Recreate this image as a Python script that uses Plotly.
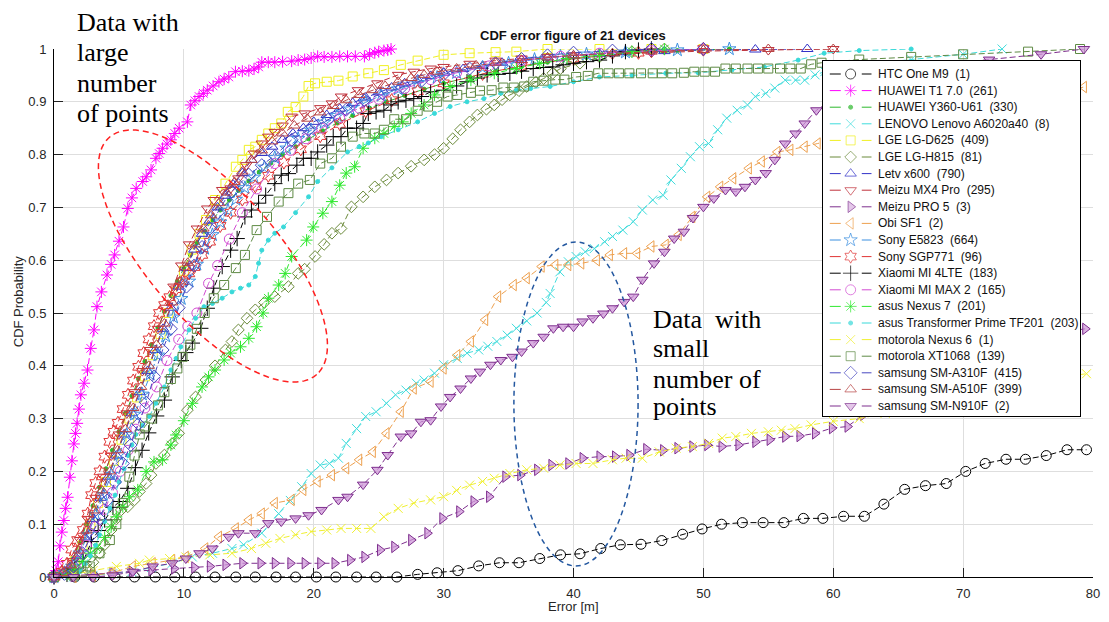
import numpy as np
import plotly.graph_objects as go

# ---------------- data ----------------
DEVICES = ["HTC One M9", "HUAWEI T1 7.0", "HUAWEI Y360-U61", "LENOVO Lenovo A6020a40",
           "LGE LG-D625", "LGE LG-H815", "Letv x600", "Meizu MX4 Pro", "Meizu PRO 5",
           "Obi SF1", "Sony E5823", "Sony SGP771", "Xiaomi MI 4LTE", "Xiaomi MI MAX 2",
           "asus Nexus 7", "asus Transformer Prime TF201", "motorola Nexus 6",
           "motorola XT1068", "samsung SM-A310F", "samsung SM-A510F", "samsung SM-N910F"]
COUNTS = [1, 261, 330, 8, 409, 81, 790, 295, 3, 2, 664, 96, 183, 165, 201, 203, 1, 139, 415, 399, 2]

X_TICKS = [0, 10, 20, 30, 40, 50, 60, 70, 80]
Y_TICKS = [0, 0.1, 0.2, 0.3, 0.4, 0.5, 0.6, 0.7, 0.8, 0.9, 1]

X_HTC = [0, 1.6, 3.1, 4.7, 6.2, 7.8, 9.3, 10.9, 12.4, 14.0, 15.5, 17.1, 18.6, 20.2, 21.7, 23.3, 24.8, 26.4,
         28.0, 29.5, 31.1, 32.7, 34.3, 35.8, 37.4, 39.0, 40.5, 42.1, 43.6, 45.2, 46.8, 48.4, 49.9, 51.4,
         53.0, 54.6, 56.2, 57.7, 59.2, 60.8, 62.4, 63.9, 65.5, 67.1, 68.7, 70.2, 71.7, 73.3, 74.8, 76.4, 78.0, 79.5]
Y_HTC = [0, 0, 0, 0, 0, 0, 0, 0, 0, 0, 0, 0, 0, 0, 0, 0, 0, 0,
         0.005, 0.008, 0.012, 0.021, 0.027, 0.027, 0.035, 0.042, 0.044, 0.054, 0.061, 0.062, 0.069, 0.081, 0.091, 0.1,
         0.103, 0.103, 0.103, 0.111, 0.111, 0.115, 0.115, 0.138, 0.166, 0.173, 0.177, 0.2, 0.215, 0.223, 0.223, 0.23, 0.241, 0.241]

X_T1 = [0, 0.15, 0.33, 0.46, 0.6, 0.76, 0.9, 1.05, 1.22, 1.38, 1.53, 1.65, 1.78, 1.92, 2.07, 2.32, 2.58, 2.83, 3.08, 3.31,
        3.65, 4.08, 4.4, 4.67, 5.0, 5.35, 5.68, 6.0, 6.33, 6.83, 7.1, 7.47, 7.85, 8.1, 8.36, 8.7, 9.0, 9.3, 9.64, 10.27,
        10.53, 10.85, 11.17, 11.5, 11.8, 12.25, 12.7, 13.1, 13.46, 13.97, 14.5, 15.0, 15.4, 15.76, 16.0, 16.5, 17.0, 17.6, 18.3, 18.8,
        19.3, 19.8, 20.3, 20.8, 21.4, 22.0, 22.6, 23.2, 23.9, 24.3, 24.7, 25.0, 25.4, 25.7, 25.95]
Y_T1 = [0, 0.012, 0.029, 0.059, 0.085, 0.107, 0.13, 0.151, 0.189, 0.22, 0.252, 0.272, 0.291, 0.318, 0.345, 0.367, 0.392, 0.433, 0.468, 0.512,
        0.54, 0.572, 0.592, 0.61, 0.636, 0.663, 0.698, 0.718, 0.736, 0.749, 0.758, 0.771, 0.793, 0.802, 0.812, 0.82, 0.828, 0.84, 0.85, 0.862,
        0.894, 0.902, 0.91, 0.916, 0.922, 0.93, 0.938, 0.943, 0.947, 0.957, 0.958, 0.959, 0.962, 0.966, 0.975, 0.975, 0.975, 0.976, 0.977, 0.979,
        0.98, 0.983, 0.986, 0.985, 0.985, 0.986, 0.986, 0.986, 0.986, 0.99, 0.993, 0.995, 0.997, 0.998, 1.0]

X_Y360 = [0, 0.5, 1.0, 1.5, 2.0, 2.5, 3.0, 3.5, 4.0, 4.5, 5.0, 5.5, 6.0, 6.5, 7.0, 7.5, 8.0, 8.5, 9.0, 9.5,
          10.0, 10.5, 11.0, 11.6, 12.2, 12.8, 13.5, 14.2, 15.0, 15.8, 16.7, 17.6, 18.6, 19.6, 20.7, 21.8, 23.0, 24.3, 25.6, 27.0,
          28.5, 30.0, 32.0, 34.0, 36.0, 38.0, 41.0, 44.0, 48.0, 52.0]
Y_Y360 = [0, 0.005, 0.015, 0.035, 0.065, 0.1, 0.135, 0.17, 0.205, 0.24, 0.275, 0.31, 0.343, 0.376, 0.408, 0.44, 0.472, 0.503, 0.533, 0.56,
          0.586, 0.61, 0.633, 0.655, 0.676, 0.695, 0.714, 0.732, 0.75, 0.767, 0.784, 0.8, 0.815, 0.83, 0.845, 0.86, 0.874, 0.888, 0.9, 0.912,
          0.924, 0.935, 0.947, 0.958, 0.967, 0.975, 0.984, 0.991, 0.997, 1.0]

X_LEN = [0, 1.5, 3.0, 4.5, 6.0, 7.5, 9.1, 10.65, 12.2, 13.7, 14.6, 16.0, 17.3, 18.2, 19.07, 19.8, 20.5, 21.2, 21.9, 22.5,
         23.3, 24.0, 24.8, 25.6, 26.3, 27.1, 27.9, 28.5, 29.3, 30.0, 31.05, 31.8, 32.7, 33.4, 34.1, 34.9, 35.6, 36.4, 37.2, 37.9,
         38.2, 38.95, 39.6, 40.2, 40.9, 41.6, 42.4, 43.0, 43.8, 44.6, 45.3, 46.1, 46.9, 47.5, 48.3, 49.0, 49.7, 50.4, 51.1, 51.8,
         52.6, 53.4, 54.0, 54.8, 55.5, 56.3, 57.1, 57.8, 58.6, 59.35, 62.0, 66.0, 70.0, 73.0]
Y_LEN = [0, 0, 0.003, 0.006, 0.01, 0.018, 0.026, 0.038, 0.045, 0.054, 0.061, 0.083, 0.12, 0.145, 0.171, 0.196, 0.212, 0.215, 0.225, 0.253,
         0.281, 0.304, 0.313, 0.329, 0.345, 0.354, 0.367, 0.373, 0.386, 0.402, 0.414, 0.424, 0.43, 0.437, 0.446, 0.458, 0.471, 0.485, 0.5, 0.52,
         0.537, 0.578, 0.597, 0.607, 0.616, 0.622, 0.635, 0.645, 0.657, 0.673, 0.695, 0.714, 0.723, 0.752, 0.774, 0.796, 0.815, 0.821, 0.847, 0.869,
         0.884, 0.894, 0.91, 0.916, 0.926, 0.941, 0.941, 0.941, 0.951, 0.957, 0.97, 0.98, 0.99, 1.0]

X_D625 = [0, 1.0, 1.6, 2.2, 2.8, 3.4, 4.0, 4.6, 5.2, 5.8, 6.4, 7.0, 7.6, 8.2, 8.8, 9.4, 10.0, 10.6, 11.2, 11.7,
          12.4, 13.2, 14.0, 14.5, 15.0, 15.5, 16.0, 16.5, 17.0, 17.5, 18.0, 18.6, 19.2, 19.6, 20.1, 21.0, 21.9, 23.0, 24.2, 25.4,
          26.7, 28.0, 30.0, 32.0, 34.0, 35.6, 38.0, 42.0, 46.0, 50.0]
Y_D625 = [0, 0.01, 0.03, 0.06, 0.1, 0.14, 0.18, 0.22, 0.26, 0.3, 0.34, 0.38, 0.42, 0.46, 0.5, 0.54, 0.58, 0.62, 0.65, 0.676,
          0.714, 0.745, 0.777, 0.79, 0.809, 0.815, 0.828, 0.84, 0.85, 0.859, 0.881, 0.89, 0.91, 0.93, 0.935, 0.938, 0.94, 0.948, 0.954, 0.96,
          0.97, 0.978, 0.989, 0.992, 0.994, 0.995, 1.0, 1.0, 1.0, 1.0]

X_H815 = [0, 1.5, 2.5, 3.0, 3.52, 3.9, 4.4, 4.8, 5.18, 5.68, 6.2, 6.58, 7.09, 7.47, 7.85, 8.5, 9.1, 9.6, 10.27, 10.9,
          11.7, 12.4, 13.2, 13.7, 14.2, 14.86, 15.5, 16.2, 17.0, 18.05, 18.8, 19.3, 20.1, 20.8, 21.4, 22.1, 22.9, 23.8, 24.7, 25.6,
          26.5, 27.5, 28.5, 29.3, 30.0, 30.7, 31.3, 32.0, 32.6, 33.3, 33.9, 34.5, 35.1, 35.8, 36.4, 37.1, 37.7, 38.4, 39.0, 40.5,
          42.0, 44.5, 47.0]
Y_H815 = [0, 0.003, 0.015, 0.028, 0.045, 0.061, 0.089, 0.11, 0.127, 0.133, 0.146, 0.162, 0.177, 0.193, 0.215, 0.231, 0.253, 0.272, 0.316, 0.341,
          0.373, 0.4, 0.43, 0.446, 0.468, 0.49, 0.506, 0.52, 0.531, 0.55, 0.575, 0.583, 0.607, 0.63, 0.651, 0.66, 0.701, 0.72, 0.739, 0.752,
          0.765, 0.778, 0.79, 0.8, 0.812, 0.83, 0.847, 0.862, 0.875, 0.886, 0.894, 0.904, 0.913, 0.921, 0.929, 0.937, 0.944, 0.954, 0.963, 0.973,
          0.985, 0.995, 1.0]

X_LETV = [0, 0.6, 1.2, 1.8, 2.4, 3.0, 3.6, 4.2, 4.8, 5.4, 6.0, 6.6, 7.2, 7.8, 8.4, 9.0, 9.6, 10.2, 10.8, 11.4,
          12.0, 12.6, 13.2, 13.8, 14.5, 15.2, 16.0, 16.8, 17.6, 18.4, 19.2, 20.0, 21.0, 22.0, 23.0, 24.0, 25.0, 26.0, 27.0, 28.0,
          29.0, 30.0, 31.5, 33.0, 34.5, 36.0, 38.0, 40.0, 42.0, 44.0, 47.0, 50.0, 54.0, 58.0]
Y_LETV = [0, 0.006, 0.018, 0.04, 0.075, 0.11, 0.15, 0.19, 0.23, 0.27, 0.31, 0.35, 0.39, 0.43, 0.47, 0.51, 0.55, 0.585, 0.62, 0.65,
          0.675, 0.7, 0.722, 0.743, 0.765, 0.79, 0.803, 0.815, 0.828, 0.84, 0.85, 0.862, 0.875, 0.887, 0.898, 0.908, 0.918, 0.927, 0.935, 0.942,
          0.949, 0.955, 0.962, 0.968, 0.974, 0.979, 0.984, 0.988, 0.991, 0.994, 0.996, 0.998, 0.999, 1.0]

X_MX4 = [0, 0.8, 1.4, 2.0, 2.6, 3.2, 3.8, 4.4, 5.0, 5.6, 6.2, 6.8, 7.4, 8.0, 8.6, 9.2, 9.8, 10.4, 11.0, 11.8,
         12.3, 12.95, 13.6, 14.2, 14.8, 15.4, 16.0, 16.5, 17.0, 17.6, 18.3, 19.3, 20.5, 21.4, 22.1, 23.4, 24.9, 26.5, 27.7, 29.0,
         30.0, 32.0, 34.0, 36.0, 38.0, 40.0, 43.0, 46.0, 50.0, 55.0, 60.0]
Y_MX4 = [0, 0.01, 0.03, 0.07, 0.11, 0.15, 0.19, 0.23, 0.27, 0.31, 0.35, 0.39, 0.43, 0.47, 0.51, 0.55, 0.59, 0.63, 0.66, 0.698,
         0.714, 0.733, 0.736, 0.755, 0.78, 0.802, 0.821, 0.834, 0.843, 0.855, 0.872, 0.878, 0.888, 0.897, 0.91, 0.922, 0.935, 0.951, 0.957, 0.963,
         0.966, 0.972, 0.978, 0.982, 0.985, 0.988, 0.99, 0.993, 0.996, 0.998, 1.0]

X_P5 = [0, 1.5, 3.0, 4.5, 6.0, 7.5, 9.25, 10.8, 12.0, 13.2, 14.5, 15.9, 17.0, 18.2, 19.3, 20.5, 21.6, 22.8, 23.9, 25.1,
        26.2, 27.5, 28.75, 29.9, 31.2, 32.3, 33.5, 34.75, 35.9, 37.2, 38.3, 39.6, 40.7, 42.0, 43.2, 44.3, 45.6, 46.9, 48.0, 49.15,
        50.3, 51.4, 52.7, 54.0, 55.1, 56.3, 57.4, 58.6, 59.9, 61.1, 62.3, 64.0, 66.0, 68.0, 70.0, 72.0, 74.0, 76.0, 78.0, 79.4]
Y_P5 = [0, 0.002, 0.005, 0.008, 0.01, 0.013, 0.016, 0.018, 0.02, 0.023, 0.026, 0.026, 0.026, 0.026, 0.026, 0.026, 0.026, 0.032, 0.038, 0.051,
        0.057, 0.07, 0.083, 0.111, 0.124, 0.143, 0.152, 0.19, 0.193, 0.203, 0.212, 0.215, 0.225, 0.228, 0.228, 0.231, 0.242, 0.24, 0.244, 0.247,
        0.25, 0.247, 0.25, 0.256, 0.26, 0.266, 0.267, 0.272, 0.282, 0.285, 0.307, 0.33, 0.36, 0.38, 0.4, 0.42, 0.44, 0.455, 0.465, 0.47]

X_OBI = [0, 1.5, 3.0, 4.5, 6.07, 7.6, 9.1, 10.15, 11.65, 12.7, 14.0, 15.0, 16.0, 17.0, 18.3, 19.2, 20.3, 21.4, 22.5, 23.5,
         24.55, 25.6, 26.7, 27.7, 29.0, 30.0, 31.05, 32.1, 33.2, 34.2, 35.4, 36.4, 37.55, 38.6, 39.6, 40.6, 41.8, 42.8, 43.9, 44.9,
         46.0, 47.1, 48.1, 49.15, 50.3, 51.3, 52.3, 53.5, 54.5, 55.7, 56.7, 57.8, 58.8, 62.0, 66.0, 70.0, 74.0, 77.0, 79.3]
Y_OBI = [0, 0, 0.003, 0.008, 0.02, 0.026, 0.032, 0.038, 0.054, 0.076, 0.092, 0.108, 0.12, 0.14, 0.146, 0.165, 0.181, 0.193, 0.206, 0.222,
         0.237, 0.272, 0.313, 0.357, 0.37, 0.395, 0.42, 0.446, 0.487, 0.531, 0.553, 0.566, 0.588, 0.591, 0.591, 0.594, 0.6, 0.61, 0.613, 0.613,
         0.626, 0.629, 0.648, 0.682, 0.72, 0.739, 0.755, 0.774, 0.787, 0.805, 0.809, 0.815, 0.821, 0.84, 0.86, 0.88, 0.9, 0.915, 0.928]

X_E5823 = [0, 0.8, 1.4, 2.0, 2.6, 3.2, 3.8, 4.4, 5.0, 5.6, 6.2, 6.8, 7.4, 8.0, 8.6, 9.2, 9.8, 10.4, 11.0, 11.6,
           12.2, 12.8, 13.4, 14.0, 14.7, 15.4, 16.2, 17.0, 17.9, 18.8, 19.8, 20.8, 21.8, 22.8, 24.0, 25.2, 26.5, 28.0, 29.5, 31.0,
           33.0, 35.0, 37.0, 39.0, 41.0, 44.0, 48.0, 52.0]
Y_E5823 = [0, 0.008, 0.02, 0.045, 0.08, 0.118, 0.156, 0.194, 0.232, 0.27, 0.308, 0.346, 0.384, 0.42, 0.456, 0.492, 0.527, 0.56, 0.592, 0.622,
           0.648, 0.672, 0.694, 0.715, 0.737, 0.757, 0.776, 0.794, 0.812, 0.83, 0.846, 0.861, 0.874, 0.886, 0.899, 0.912, 0.924, 0.936, 0.946, 0.955,
           0.965, 0.973, 0.98, 0.986, 0.99, 0.994, 0.998, 1.0]

X_SGP = [0, 0.6, 1.0, 1.35, 1.8, 2.24, 2.6, 2.88, 3.2, 3.52, 3.9, 4.28, 4.6, 4.92, 5.3, 5.7, 6.1, 6.5, 6.9, 7.3,
         7.7, 8.1, 8.5, 8.9, 9.4, 9.9, 10.4, 10.8, 11.4, 12.0, 12.8, 13.6, 14.5, 15.5, 16.5, 17.7, 19.0, 20.5, 22.0, 24.0,
         26.0, 28.0, 30.0, 33.0, 36.0, 40.0, 45.0, 50.0]
Y_SGP = [0, 0.01, 0.025, 0.052, 0.07, 0.089, 0.12, 0.155, 0.178, 0.2, 0.228, 0.256, 0.275, 0.292, 0.318, 0.345, 0.372, 0.398, 0.424, 0.45,
         0.475, 0.5, 0.515, 0.53, 0.545, 0.56, 0.575, 0.587, 0.61, 0.635, 0.665, 0.69, 0.715, 0.74, 0.76, 0.785, 0.81, 0.835, 0.858, 0.882,
         0.903, 0.92, 0.935, 0.953, 0.968, 0.982, 0.993, 1.0]

X_4LTE = [0, 1.0, 1.6, 2.24, 2.88, 3.4, 3.9, 4.54, 5.05, 5.68, 6.27, 6.78, 7.29, 7.9, 8.5, 9.1, 9.8, 10.15, 10.65, 11.3,
          11.8, 12.3, 12.95, 13.6, 14.1, 14.7, 15.2, 15.75, 16.3, 17.0, 17.5, 18.05, 18.7, 19.2, 19.8, 20.3, 21.0, 21.5, 22.1, 22.6,
          23.3, 23.8, 24.2, 24.8, 25.4, 25.95, 26.5, 27.1, 27.7, 28.3, 29.0, 30.0, 31.0, 31.8, 32.6, 33.35, 34.2, 35.1, 36.0, 36.9,
          37.7, 38.4, 39.2, 40.0, 41.0, 42.0, 43.0, 44.0, 45.0, 46.0]
Y_4LTE = [0, 0.005, 0.015, 0.029, 0.067, 0.088, 0.108, 0.132, 0.143, 0.168, 0.207, 0.24, 0.273, 0.305, 0.335, 0.379, 0.41, 0.425, 0.443, 0.471,
          0.509, 0.547, 0.588, 0.619, 0.641, 0.682, 0.695, 0.708, 0.723, 0.745, 0.761, 0.764, 0.78, 0.793, 0.793, 0.805, 0.818, 0.834, 0.834, 0.85,
          0.85, 0.859, 0.878, 0.881, 0.884, 0.894, 0.9, 0.903, 0.906, 0.91, 0.919, 0.922, 0.93, 0.938, 0.945, 0.951, 0.952, 0.954, 0.958, 0.963,
          0.965, 0.966, 0.97, 0.973, 0.976, 0.979, 0.987, 0.995, 0.998, 1.0]

X_MAX2 = [0, 1.0, 1.8, 2.5, 3.2, 3.9, 4.5, 5.1, 5.7, 6.3, 7.0, 7.9, 8.7, 9.6, 10.3, 11.0, 11.9, 12.6, 13.5, 14.5,
          15.6, 17.0, 18.2, 19.4, 20.6, 22.0, 23.5, 25.0, 27.0, 29.0, 31.0, 33.5, 36.0, 39.0, 42.0, 46.0, 50.0]
Y_MAX2 = [0, 0.01, 0.03, 0.06, 0.095, 0.128, 0.16, 0.2, 0.24, 0.28, 0.32, 0.36, 0.41, 0.45, 0.475, 0.5, 0.556, 0.59, 0.64, 0.69,
          0.735, 0.783, 0.808, 0.83, 0.85, 0.87, 0.888, 0.905, 0.925, 0.942, 0.955, 0.968, 0.978, 0.986, 0.992, 0.997, 1.0]

X_N7 = [0, 1.0, 1.6, 2.2, 2.8, 3.3, 3.9, 4.4, 4.8, 5.3, 5.8, 6.45, 7.09, 7.7, 8.36, 9.0, 9.4, 10.0, 10.65, 11.4,
        11.9, 12.4, 13.1, 13.6, 14.36, 15.0, 15.6, 16.1, 16.5, 17.3, 17.8, 18.3, 19.45, 19.96, 20.7, 21.4, 22.0, 22.5, 23.15, 23.8,
        24.7, 25.4, 26.2, 26.85, 27.5, 28.5, 29.3, 30.5, 32.1, 33.9, 35.6, 37.4, 39.5, 42.0, 44.5, 47.0]
Y_N7 = [0, 0.005, 0.015, 0.03, 0.045, 0.055, 0.075, 0.095, 0.114, 0.133, 0.152, 0.165, 0.2, 0.218, 0.222, 0.25, 0.269, 0.296, 0.329, 0.36,
        0.379, 0.392, 0.411, 0.424, 0.436, 0.452, 0.474, 0.5, 0.528, 0.553, 0.575, 0.607, 0.638, 0.663, 0.689, 0.711, 0.742, 0.765, 0.777, 0.812,
        0.831, 0.84, 0.853, 0.862, 0.878, 0.894, 0.913, 0.929, 0.941, 0.954, 0.963, 0.973, 0.982, 0.988, 0.995, 1.0]

X_TF = [0, 1.5, 2.0, 2.4, 2.8, 3.2, 3.5, 3.9, 4.3, 4.7, 5.0, 5.4, 5.7, 6.0, 6.3, 6.8, 7.34, 7.85, 8.5, 9.0,
        9.4, 9.77, 10.4, 10.9, 11.55, 12.2, 12.95, 13.7, 14.36, 15.0, 15.5, 15.75, 16.0, 16.5, 17.0, 17.67, 18.6, 19.6, 20.3, 21.4,
        22.6, 23.5, 24.2, 25.2, 26.5, 28.0, 29.3, 30.5, 31.8, 33.1, 34.4, 35.6, 36.7, 38.2, 40.0, 42.0, 44.5, 47.1, 49.6, 52.2,
        54.7, 57.3, 59.3, 62.0, 66.0]
Y_TF = [0, 0.003, 0.01, 0.025, 0.04, 0.06, 0.08, 0.105, 0.13, 0.155, 0.18, 0.205, 0.23, 0.25, 0.27, 0.287, 0.304, 0.329, 0.36, 0.392,
        0.414, 0.436, 0.468, 0.49, 0.512, 0.518, 0.528, 0.54, 0.547, 0.553, 0.569, 0.594, 0.619, 0.638, 0.651, 0.663, 0.69, 0.72, 0.749, 0.775,
        0.805, 0.815, 0.822, 0.834, 0.847, 0.862, 0.878, 0.891, 0.9, 0.906, 0.916, 0.922, 0.925, 0.929, 0.938, 0.947, 0.95, 0.954, 0.955, 0.96,
        0.966, 0.979, 0.992, 0.997, 1.0]

X_NX6 = [0, 1.5, 3.0, 4.8, 6.58, 7.34, 8.9, 10.15, 12.0, 13.7, 15.2, 16.3, 17.4, 18.6, 19.8, 21.0, 22.1, 23.3, 24.4, 25.4,
         26.5, 27.7, 29.0, 30.0, 31.0, 32.0, 33.0, 33.9, 35.1, 36.4, 37.7, 38.95, 40.2, 41.5, 43.0, 44.05, 45.3, 46.6, 47.9, 49.15,
         50.4, 51.45, 52.5, 53.7, 55.0, 56.0, 57.05, 58.3, 60.0, 62.0, 64.0, 66.0, 68.0, 70.0, 72.0, 74.0, 76.0, 78.0, 79.5]
Y_NX6 = [0, 0.005, 0.012, 0.02, 0.026, 0.032, 0.035, 0.038, 0.042, 0.045, 0.054, 0.064, 0.073, 0.08, 0.086, 0.089, 0.092, 0.092, 0.092, 0.114,
         0.13, 0.14, 0.146, 0.152, 0.164, 0.174, 0.181, 0.187, 0.196, 0.203, 0.206, 0.212, 0.215, 0.215, 0.222, 0.225, 0.225, 0.237, 0.244, 0.247,
         0.253, 0.263, 0.266, 0.272, 0.275, 0.278, 0.281, 0.288, 0.295, 0.3, 0.31, 0.32, 0.33, 0.34, 0.35, 0.36, 0.37, 0.38, 0.385]

X_XT = [0, 1.5, 2.2, 2.75, 3.5, 4.3, 4.8, 5.3, 5.8, 6.2, 6.6, 7.0, 7.5, 8.0, 8.5, 9.0, 9.5, 9.9, 10.5, 11.0,
        11.6, 12.3, 13.1, 14.0, 14.7, 15.6, 16.4, 17.3, 18.05, 18.8, 19.7, 20.5, 21.4, 22.1, 23.0, 23.9, 24.7, 25.4, 26.2, 27.1,
        28.0, 28.8, 29.5, 30.3, 31.05, 32.1, 32.8, 33.7, 34.6, 35.4, 36.2, 36.9, 37.7, 38.6, 39.3, 40.2, 41.1, 41.9, 42.7, 43.5,
        44.3, 45.2, 46.1, 46.8, 47.6, 48.5, 49.3, 50.1, 50.9, 51.7, 52.5, 53.4, 54.2, 55.0, 55.9, 56.7, 57.5, 58.3, 59.1, 62.0,
        66.0, 70.0, 75.0, 79.0]
Y_XT = [0, 0.003, 0.01, 0.02, 0.045, 0.07, 0.1, 0.14, 0.19, 0.23, 0.27, 0.285, 0.3, 0.325, 0.35, 0.375, 0.395, 0.417, 0.44, 0.47,
        0.5, 0.528, 0.553, 0.585, 0.61, 0.657, 0.682, 0.711, 0.727, 0.745, 0.752, 0.783, 0.793, 0.815, 0.834, 0.84, 0.84, 0.847, 0.867, 0.867,
        0.883, 0.891, 0.9, 0.91, 0.913, 0.917, 0.921, 0.922, 0.927, 0.927, 0.929, 0.938, 0.94, 0.942, 0.942, 0.947, 0.949, 0.954, 0.954, 0.954,
        0.954, 0.954, 0.954, 0.954, 0.954, 0.955, 0.957, 0.957, 0.957, 0.963, 0.963, 0.963, 0.963, 0.963, 0.963, 0.963, 0.963, 0.971, 0.974, 0.98,
        0.985, 0.99, 0.995, 1.0]

X_A310 = [0, 0.8, 1.5, 2.2, 2.9, 3.5, 4.1, 4.7, 5.3, 5.9, 6.5, 7.1, 7.7, 8.36, 9.0, 9.6, 10.2, 10.8, 11.4, 12.0,
          12.6, 13.2, 13.7, 14.2, 15.0, 16.0, 17.0, 18.3, 19.6, 21.1, 22.5, 23.9, 25.3, 26.8, 28.3, 30.0, 32.0, 34.0, 36.0, 38.0,
          40.0, 43.0, 46.0, 50.0]
Y_A310 = [0, 0.006, 0.02, 0.045, 0.08, 0.11, 0.145, 0.18, 0.215, 0.25, 0.29, 0.33, 0.38, 0.43, 0.47, 0.51, 0.55, 0.59, 0.625, 0.66,
          0.69, 0.715, 0.73, 0.742, 0.762, 0.78, 0.798, 0.828, 0.847, 0.866, 0.885, 0.903, 0.916, 0.928, 0.94, 0.952, 0.963, 0.973, 0.981, 0.988,
          0.993, 0.997, 1.0, 1.0]

X_A510 = [0, 0.7, 1.3, 1.9, 2.5, 3.1, 3.7, 4.3, 4.9, 5.5, 6.1, 6.7, 7.3, 7.9, 8.5, 9.1, 9.7, 10.3, 10.9, 11.5,
          12.1, 12.7, 13.3, 13.9, 14.5, 15.2, 16.0, 16.8, 17.6, 18.5, 19.5, 20.5, 21.5, 22.5, 23.5, 24.5, 25.5, 26.5, 27.5, 28.5,
          29.5, 31.0, 32.5, 34.0, 36.0, 38.0, 40.0, 43.0, 46.0, 50.0, 55.0, 60.0]
Y_A510 = [0, 0.008, 0.022, 0.05, 0.088, 0.126, 0.164, 0.2, 0.24, 0.28, 0.32, 0.36, 0.4, 0.44, 0.48, 0.52, 0.56, 0.595, 0.63, 0.66,
          0.685, 0.708, 0.728, 0.748, 0.768, 0.79, 0.808, 0.825, 0.84, 0.855, 0.868, 0.88, 0.892, 0.903, 0.913, 0.922, 0.93, 0.938, 0.945, 0.951,
          0.957, 0.963, 0.969, 0.974, 0.979, 0.984, 0.988, 0.992, 0.995, 0.998, 1.0, 1.0]

X_N910 = [0, 1.5, 3.0, 4.5, 6.07, 7.6, 9.1, 10.15, 11.2, 12.2, 13.46, 14.2, 15.5, 16.5, 17.5, 18.6, 19.6, 20.6, 21.9, 22.6,
          23.8, 24.9, 25.7, 26.7, 27.5, 28.25, 29.0, 29.8, 30.5, 31.3, 32.1, 32.8, 33.6, 34.4, 35.3, 36.0, 36.9, 37.7, 38.45, 39.2,
          40.0, 40.7, 41.5, 42.3, 43.0, 43.9, 44.6, 45.3, 46.2, 47.0, 47.75, 48.5, 49.2, 50.0, 50.8, 51.7, 52.5, 53.2, 54.0, 54.8,
          55.5, 56.3, 57.1, 57.8, 58.7, 61.0, 64.0, 68.0, 72.0, 76.0, 79.3]
Y_N910 = [0, 0, 0, 0.003, 0.01, 0.02, 0.026, 0.035, 0.045, 0.054, 0.076, 0.083, 0.083, 0.102, 0.105, 0.111, 0.117, 0.127, 0.146, 0.152,
          0.175, 0.203, 0.231, 0.266, 0.272, 0.294, 0.297, 0.323, 0.341, 0.357, 0.376, 0.389, 0.402, 0.411, 0.417, 0.427, 0.443, 0.455, 0.471, 0.474,
          0.474, 0.484, 0.49, 0.499, 0.509, 0.521, 0.531, 0.563, 0.594, 0.616, 0.641, 0.654, 0.68, 0.701, 0.717, 0.733, 0.73, 0.739, 0.752, 0.765,
          0.79, 0.821, 0.84, 0.859, 0.884, 0.92, 0.95, 0.97, 0.98, 0.99, 1.0]

SERIES_X = [X_HTC, X_T1, X_Y360, X_LEN, X_D625, X_H815, X_LETV, X_MX4, X_P5, X_OBI, X_E5823,
            X_SGP, X_4LTE, X_MAX2, X_N7, X_TF, X_NX6, X_XT, X_A310, X_A510, X_N910]
SERIES_Y = [Y_HTC, Y_T1, Y_Y360, Y_LEN, Y_D625, Y_H815, Y_LETV, Y_MX4, Y_P5, Y_OBI, Y_E5823,
            Y_SGP, Y_4LTE, Y_MAX2, Y_N7, Y_TF, Y_NX6, Y_XT, Y_A310, Y_A510, Y_N910]

# ---------------- styles ----------------
COLORS = ["#000000", "#ff00ff", "#2cb82c", "#3fdcdc", "#f0f020", "#6b8a3a", "#3232c8", "#c0303a",
          "#7e2f8e", "#eda04f", "#3a8fe0", "#e03434", "#000000", "#d24bd2", "#2ee82e", "#39d9d9",
          "#f0f030", "#5e8a44", "#4848c0", "#b84444", "#7e2f8e"]
SYMBOLS = ["circle-open", "asterisk-open", "circle", "x-thin-open", "square-open", "diamond-open",
           "triangle-up-open", "triangle-down-open", "triangle-right", "triangle-left-open", "star-open",
           "hexagram-open", "cross-thin-open", "circle-open", "asterisk-open", "circle", "x-thin-open",
           "square-open", "diamond-open", "triangle-up-open", "triangle-down"]
SIZES = [10, 10, 4, 9, 9, 9, 10, 10, 10, 10, 10, 10, 11, 10, 10, 4, 9, 9, 10, 10, 10]

FONT = "Liberation Sans, Arial, sans-serif"
SERIF = "Liberation Serif, Times New Roman, serif"

# plot area in pixels (figure 1109 x 622)
L, R, T, B = 54, 1100, 49, 577


def px_x(p):
    return (p - L) / (R - L)


def px_y(p):
    return (B - p) / (B - T)


def marker_style(i):
    m = dict(symbol=SYMBOLS[i], size=SIZES[i], color=COLORS[i], line=dict(width=1, color=COLORS[i]))
    if SYMBOLS[i] in ("triangle-right", "triangle-down"):
        m["color"] = "rgba(205,150,215,0.75)"
    return m


fig = go.Figure()

for i in range(len(DEVICES)):
    xs, ys = SERIES_X[i], SERIES_Y[i]
    assert len(xs) == len(ys), (DEVICES[i], len(xs), len(ys))
    fig.add_trace(go.Scatter(
        x=xs, y=ys, mode="lines+markers", name=DEVICES[i], showlegend=False,
        line=dict(color=COLORS[i], width=1, dash="6px,3px"),
        marker=marker_style(i), cliponaxis=False, hoverinfo="skip"))

# ---------------- hand-built legend box (second subplot on top) ----------------
LEG_X0, LEG_X1, LEG_Y0, LEG_Y1 = 828, 1087, 61, 416
ROW0, ROW_STEP = 74, 16.6
for i in range(len(DEVICES)):
    yy = ROW0 + i * ROW_STEP
    ms = marker_style(i)
    ms["size"] = [0, SIZES[i], 0]
    fig.add_trace(go.Scatter(
        x=[835, 856, 877], y=[yy, yy, yy], mode="lines+markers", showlegend=False,
        line=dict(color=COLORS[i], width=1, dash="11px,21px"), marker=ms,
        xaxis="x2", yaxis="y2", hoverinfo="skip", cliponaxis=False))
    fig.add_annotation(x=882, y=yy, xref="x2", yref="y2", xanchor="left", yanchor="middle",
                       text=f"{DEVICES[i]}\u00a0\u00a0({COUNTS[i]})", showarrow=False,
                       font=dict(family=FONT, size=12, color="#111111"))

# ---------------- annotations: texts ----------------
fig.add_annotation(x=px_x(576), y=px_y(36), xref="paper", yref="paper", showarrow=False,
                   text="<b>CDF error figure of 21 devices</b>", xanchor="center", yanchor="middle",
                   font=dict(family=FONT, size=13, color="#111111"))
fig.add_annotation(x=px_x(577), y=px_y(606), xref="paper", yref="paper", showarrow=False,
                   text="Error [m]", xanchor="center", yanchor="middle",
                   font=dict(family=FONT, size=13, color="#262626"))
fig.add_annotation(x=px_x(18), y=px_y(301), xref="paper", yref="paper", showarrow=False,
                   text="CDF Probability", textangle=-90, xanchor="center", yanchor="middle",
                   font=dict(family=FONT, size=13, color="#262626"))

LEFT_NOTE = ["Data with", "large", "number", "of points"]
LEFT_NOTE_Y = [22, 52, 83, 113]
RIGHT_NOTE = ["Data\u00a0\u00a0with", "small", "number of", "points"]
RIGHT_NOTE_Y = [319, 349, 379, 406]
for txt, yy in zip(LEFT_NOTE, LEFT_NOTE_Y):
    fig.add_annotation(x=px_x(75), y=px_y(yy), xref="paper", yref="paper", showarrow=False,
                       text=txt, xanchor="left", yanchor="middle",
                       font=dict(family=SERIF, size=26, color="#000000"))
for txt, yy in zip(RIGHT_NOTE, RIGHT_NOTE_Y):
    fig.add_annotation(x=px_x(655), y=px_y(yy), xref="paper", yref="paper", showarrow=False,
                       text=txt, xanchor="left", yanchor="middle",
                       font=dict(family=SERIF, size=26, color="#000000"))

# ---------------- dashed ellipses ----------------
t = np.linspace(0, 2 * np.pi, 120)
cx, cy, a, b, th = 214, 256, 158, 65, np.deg2rad(48.6)
ex = cx + a * np.cos(t) * np.cos(th) - b * np.sin(t) * np.sin(th)
ey = cy + a * np.cos(t) * np.sin(th) + b * np.sin(t) * np.cos(th)
path = "M " + " L ".join(f"{px_x(u):.5f},{px_y(v):.5f}" for u, v in zip(ex, ey)) + " Z"
fig.add_shape(type="path", path=path, xref="paper", yref="paper",
              line=dict(color="#ff2020", width=1.5, dash="6px,4px"), layer="above")
fig.add_shape(type="circle", xref="paper", yref="paper",
              x0=px_x(517), x1=px_x(642), y0=px_y(566), y1=px_y(242),
              line=dict(color="#2458a0", width=1.5, dash="5px,4px"), layer="above")

# ---------------- layout ----------------
fig.update_layout(
    width=1109, height=622, autosize=False,
    margin=dict(l=L, r=1109 - R, t=T, b=622 - B),
    paper_bgcolor="white", plot_bgcolor="white", showlegend=False,
    font=dict(family=FONT, size=13, color="#262626"),
    xaxis=dict(range=[0, 80], tickvals=X_TICKS, showgrid=True, gridcolor="#dedede", gridwidth=1,
               zeroline=False, showline=True, linecolor="#000000", linewidth=1,
               ticks="inside", ticklen=9, tickcolor="#222222", ticklabelstandoff=4,
               tickfont=dict(family=FONT, size=13, color="#262626"), domain=[0, 1]),
    yaxis=dict(range=[0, 1], tickvals=Y_TICKS, showgrid=True, gridcolor="#dedede", gridwidth=1,
               zeroline=False, showline=True, linecolor="#000000", linewidth=1,
               ticks="inside", ticklen=9, tickcolor="#222222", ticklabelstandoff=4,
               tickfont=dict(family=FONT, size=13, color="#262626"), domain=[0, 1]),
    xaxis2=dict(domain=[px_x(LEG_X0), px_x(LEG_X1)], range=[LEG_X0, LEG_X1], anchor="y2",
                showgrid=False, zeroline=False, showticklabels=False, ticks="",
                showline=True, mirror=True, linecolor="#000000", linewidth=1, fixedrange=True),
    yaxis2=dict(domain=[px_y(LEG_Y1), px_y(LEG_Y0)], range=[LEG_Y1, LEG_Y0], anchor="x2",
                showgrid=False, zeroline=False, showticklabels=False, ticks="",
                showline=True, mirror=True, linecolor="#000000", linewidth=1, fixedrange=True),
)

fig.write_html("out.html")
